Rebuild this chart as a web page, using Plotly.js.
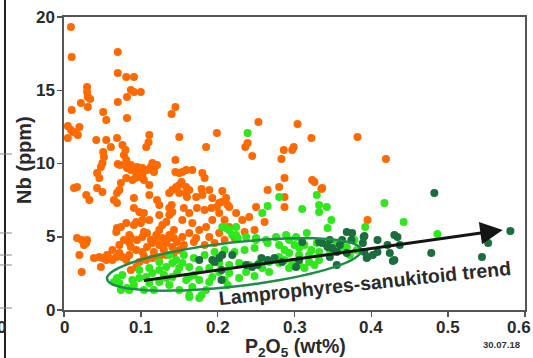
<!DOCTYPE html>
<html><head><meta charset="utf-8">
<script src="https://cdn.plot.ly/plotly-3.0.1.min.js"></script>
<style>html,body{margin:0;padding:0;background:#fff}#chart{width:533px;height:358px}</style>
</head><body><div id="chart"></div>
<script>
// Orange series (P2O5 wt%, Nb ppm)
const orangeX = [0.009,0.010,0.010,0.005,0.009,0.012,0.020,0.018,0.005,0.022,0.030,0.030,0.031,0.034,0.031,0.051,0.055,0.042,0.055,0.061,0.051,0.052,0.050,0.070,0.070,0.081,0.091,0.070,0.082,0.087,0.091,0.100,0.082,0.069,0.076,0.080,0.078,0.081,0.070,0.082,0.087,0.094,0.098,0.102,0.108,0.102,0.111,0.110,0.107,0.115,0.121,0.117,0.145,0.140,0.150,0.145,0.150,0.048,0.043,0.046,0.073,0.082,0.087,0.095,0.100,0.104,0.093,0.089,0.113,0.120,0.117,0.111,0.145,0.081,0.074,0.072,0.069,0.017,0.013,0.029,0.033,0.043,0.050,0.065,0.069,0.091,0.091,0.098,0.104,0.102,0.094,0.091,0.121,0.137,0.140,0.137,0.141,0.081,0.074,0.068,0.069,0.133,0.128,0.124,0.120,0.017,0.023,0.030,0.026,0.029,0.020,0.023,0.039,0.046,0.050,0.055,0.048,0.059,0.063,0.068,0.072,0.076,0.081,0.085,0.087,0.094,0.102,0.108,0.115,0.124,0.133,0.141,0.147,0.098,0.107,0.115,0.124,0.133,0.143,0.087,0.094,0.087,0.085,0.095,0.102,0.108,0.113,0.120,0.128,0.134,0.143,0.104,0.100,0.085,0.199,0.253,0.239,0.236,0.185,0.245,0.286,0.283,0.287,0.265,0.180,0.183,0.167,0.159,0.154,0.153,0.146,0.159,0.163,0.141,0.150,0.160,0.179,0.206,0.193,0.205,0.213,0.156,0.173,0.192,0.199,0.287,0.304,0.322,0.299,0.382,0.323,0.419,0.150,0.159,0.172,0.180,0.189,0.202,0.211,0.215,0.224,0.232,0.241,0.202,0.193,0.185,0.176,0.163,0.154,0.172,0.189,0.202,0.215,0.209,0.250,0.280,0.326,0.336,0.183,0.163,0.154,0.167,0.297,0.335,0.287,0.395,0.137,0.143,0.156,0.169,0.183,0.196,0.209,0.222,0.235,0.150,0.130,0.117,0.104,0.137,0.124,0.111,0.124,0.111,0.248,0.261,0.072,0.078,0.063,0.056];
const orangeY = [19.32,17.27,13.65,12.56,12.29,12.15,12.49,11.95,11.74,14.13,15.22,14.88,14.54,14.40,13.86,13.52,12.97,11.60,11.60,11.13,10.78,10.44,10.03,17.61,16.18,15.90,15.90,14.20,14.54,15.02,14.88,14.88,13.11,11.74,11.26,10.92,10.58,10.24,9.97,9.90,9.56,9.35,9.69,9.69,9.56,9.22,11.95,11.45,11.13,10.03,9.90,9.56,13.86,13.38,11.81,10.24,9.35,9.76,9.35,9.01,9.90,9.69,9.90,9.76,9.08,8.87,9.01,8.87,9.76,9.90,9.42,8.53,9.42,9.01,8.67,8.19,7.99,8.40,8.33,7.85,7.51,8.33,8.05,7.51,7.30,7.65,6.96,6.69,6.62,6.14,6.01,5.80,7.51,7.99,7.17,6.96,6.69,5.94,5.67,5.32,5.60,6.01,5.80,5.46,5.12,4.91,4.78,4.78,4.44,4.57,3.75,2.59,3.55,3.62,3.55,3.41,2.94,3.55,3.41,3.62,3.89,3.62,3.41,3.75,4.30,4.10,3.96,4.30,4.57,4.44,4.57,4.30,4.64,3.28,3.41,3.55,3.62,3.75,3.89,2.73,2.94,4.91,4.57,4.78,4.98,5.26,4.78,4.91,4.91,4.78,4.91,5.32,5.94,5.12,12.08,12.83,11.40,11.13,11.13,10.51,10.92,10.31,9.01,8.19,9.35,9.01,9.56,9.56,9.42,8.74,8.40,8.40,8.19,8.19,7.99,7.71,8.26,8.12,7.65,7.37,7.17,6.96,6.96,6.96,7.03,7.71,12.70,11.74,11.13,11.81,8.87,10.31,8.53,7.99,7.71,7.85,8.19,7.30,7.65,7.03,6.62,6.14,6.35,6.62,6.14,5.67,5.46,5.26,4.98,4.91,4.98,5.26,5.67,6.14,7.03,8.40,8.74,8.33,6.83,6.62,6.14,5.94,10.92,8.26,7.03,6.14,5.12,5.46,4.44,4.64,4.44,4.57,4.78,4.91,5.32,4.10,4.10,3.96,3.69,6.48,6.48,6.14,7.17,7.85,5.46,6.01,4.44,4.78,4.10,3.75];

// Light green series
const lightX = [0.069,0.072,0.082,0.089,0.098,0.107,0.115,0.124,0.133,0.141,0.111,0.124,0.133,0.141,0.147,0.074,0.085,0.146,0.076,0.065,0.211,0.224,0.219,0.226,0.237,0.250,0.263,0.276,0.289,0.302,0.316,0.329,0.342,0.355,0.368,0.381,0.154,0.163,0.176,0.189,0.202,0.215,0.228,0.241,0.254,0.267,0.280,0.293,0.306,0.319,0.332,0.346,0.159,0.167,0.179,0.185,0.176,0.163,0.193,0.202,0.215,0.237,0.258,0.280,0.265,0.258,0.280,0.239,0.329,0.332,0.348,0.343,0.310,0.332,0.342,0.417,0.392,0.442,0.486,0.206,0.215,0.224,0.250,0.265,0.280,0.156,0.169,0.183,0.196,0.209,0.222,0.235,0.248,0.150,0.169,0.189,0.209,0.228,0.248,0.267,0.293,0.306,0.319,0.332,0.287,0.297,0.130,0.137,0.150,0.163,0.137,0.124,0.111,0.098,0.091,0.104,0.117,0.213,0.163,0.176,0.359,0.372,0.378,0.313,0.300,0.293,0.287,0.306,0.322,0.313,0.326];
const lightY = [2.18,1.84,1.50,2.05,2.18,2.25,2.53,2.73,2.94,3.21,1.84,1.91,2.18,2.25,2.53,1.37,1.37,3.41,2.39,1.91,5.60,5.67,5.12,4.91,4.98,4.91,4.78,4.98,5.12,4.98,5.26,4.57,4.44,4.57,4.30,4.10,3.21,2.94,2.73,2.87,3.21,3.07,3.21,3.07,3.21,3.28,3.62,3.89,3.75,3.75,3.96,4.10,2.05,1.57,1.02,1.37,2.05,2.25,2.25,2.59,2.53,2.59,2.87,3.21,7.10,6.62,7.71,12.08,7.85,7.17,6.14,5.60,6.89,6.69,7.03,7.30,5.67,6.01,5.19,5.67,5.46,5.12,4.78,4.57,4.44,3.75,3.55,3.75,3.96,4.10,3.96,4.10,4.23,2.87,2.39,1.91,2.05,2.18,2.32,2.59,2.87,3.07,3.28,3.41,3.41,3.28,2.39,1.71,1.37,1.02,3.75,3.28,2.87,2.73,1.71,1.37,1.37,1.71,0.89,0.82,4.10,3.75,4.78,4.44,4.44,4.78,4.10,4.23,4.10,2.87,3.07];

// Dark green series
const darkX = [0.176,0.193,0.202,0.206,0.205,0.219,0.237,0.252,0.265,0.284,0.310,0.336,0.343,0.355,0.362,0.368,0.375,0.196,0.205,0.257,0.274,0.245,0.368,0.374,0.391,0.408,0.430,0.332,0.346,0.349,0.359,0.346,0.395,0.408,0.424,0.430,0.306,0.302,0.355,0.482,0.581,0.552,0.544,0.478,0.428,0.434,0.437,0.421,0.402,0.394,0.391,0.389,0.390];
const darkY = [3.41,3.41,3.55,3.75,2.05,3.75,3.07,3.07,3.41,3.28,4.64,4.57,4.30,3.96,4.78,3.89,5.26,3.28,2.73,3.55,3.55,2.94,5.32,4.78,5.05,4.78,5.12,4.64,4.78,4.23,4.44,3.62,3.62,3.96,3.89,3.41,3.41,2.94,3.07,7.99,5.39,4.57,3.62,3.89,3.34,4.98,4.44,4.44,3.75,3.55,3.96,4.57,4.98];

// Axis ticks
const xTicks = [0,0.1,0.2,0.3,0.4,0.5,0.6];
const xTickText = ["0","0.1","0.2","0.3","0.4","0.5","0.6"];
const yTicks = [0,5,10,15,20];
const yTickText = ["0","5","10","15","20"];

// Trend arrow (start/end) and ellipse tips
const trendStart = [0.100, 1.98];
const trendEnd = [0.571, 5.46];
const ellLeft = [0.056, 2.12];
const ellRight = [0.387, 4.10];

const FONT = 'Liberation Sans, Arial, Helvetica, sans-serif';
const INK = '#2a2a2a';
const L = 64, R = 8, T = 17, B = 48, W = 533, H = 358;
const pw = W - L - R, ph = H - T - B;
const xr = [0, 0.6], yr = [0, 20];
const sx = pw / (xr[1] - xr[0]), sy = ph / (yr[1] - yr[0]);

// ellipse path (annotation shape) built in pixel space, returned in data units
function ellipsePath(a, b, halfMinorPx) {
  const ax = a[0]*sx, ay = a[1]*sy, bx = b[0]*sx, by = b[1]*sy;
  const cx = (ax+bx)/2, cy = (ay+by)/2;
  const ux = (bx-ax)/2, uy = (by-ay)/2;
  const len = Math.hypot(ux, uy);
  const vx = -uy/len*halfMinorPx, vy = ux/len*halfMinorPx;
  let d = '';
  for (let i = 0; i <= 72; i++) {
    const t = i/72*2*Math.PI;
    const px = cx + ux*Math.cos(t) + vx*Math.sin(t);
    const py = cy + uy*Math.cos(t) + vy*Math.sin(t);
    d += (i === 0 ? 'M' : 'L') + (px/sx).toFixed(5) + ',' + (py/sy).toFixed(4);
  }
  return d + 'Z';
}

const mk = (x, y, color) => ({
  type: 'scatter', mode: 'markers', x: x, y: y, hoverinfo: 'skip',
  marker: {size: 8, color: color, line: {width: 0}}, showlegend: false
});

const data = [
  mk(orangeX, orangeY, '#ff6a00'),
  mk(lightX, lightY, '#2ee81c'),
  mk(darkX, darkY, '#1a6d3c')
];

// paper helpers for positioning decorations
const pxToPaperX = p => (p - L) / pw;
const pyToPaperY = p => (H - B - p) / ph;
const xToPaper = v => (v - xr[0]) / (xr[1] - xr[0]);
const yToPaper = v => (v - yr[0]) / (yr[1] - yr[0]);

const shapes = [
  {type: 'path', xref: 'x', yref: 'y', path: ellipsePath(ellLeft, ellRight, 22),
   line: {color: '#1f8c4a', width: 2.5}, fillcolor: 'rgba(0,0,0,0)', layer: 'above'},
  {type: 'line', xref: 'paper', yref: 'paper', x0: pxToPaperX(5), x1: pxToPaperX(5),
   y0: pyToPaperY(0), y1: pyToPaperY(358), line: {color: '#222', width: 2}}
];
[154, 233, 255, 265, 308].forEach(py => shapes.push({
  type: 'line', xref: 'paper', yref: 'paper', x0: pxToPaperX(0), x1: pxToPaperX(12),
  y0: pyToPaperY(py), y1: pyToPaperY(py), line: {color: '#888', width: 1}
}));

const tickFont = {family: FONT, size: 17, color: INK};
const annotations = [
  {x: trendEnd[0], y: trendEnd[1], ax: trendStart[0], ay: trendStart[1],
   xref: 'x', yref: 'y', axref: 'x', ayref: 'y', text: ' ', showarrow: true,
   arrowhead: 2, arrowsize: 1.5, arrowwidth: 3, arrowcolor: '#151515'},
  {x: 0.392, y: 1.85, xref: 'x', yref: 'y', text: '<b>Lamprophyres-sanukitoid trend</b>',
   showarrow: false, textangle: -6, font: {family: FONT, size: 19.5, color: INK}},
  {x: pxToPaperX(501), y: pyToPaperY(344), xref: 'paper', yref: 'paper',
   xanchor: 'center', yanchor: 'middle',
   text: '<b>30.07.18</b>', showarrow: false, font: {family: FONT, size: 9.5, color: '#333'}},
  {x: pxToPaperX(1), y: pyToPaperY(327), xref: 'paper', yref: 'paper',
   xanchor: 'center', yanchor: 'middle',
   text: '<b>0</b>', showarrow: false, font: {family: FONT, size: 17, color: INK}},
  // axis titles
  {x: pxToPaperX(295), y: pyToPaperY(347.5), xref: 'paper', yref: 'paper',
   xanchor: 'center', yanchor: 'middle', showarrow: false,
   text: '<b>P<sub>2</sub>O<sub>5</sub> (wt%)</b>', font: {family: FONT, size: 19.5, color: INK}},
  {x: pxToPaperX(24), y: pyToPaperY(160), xref: 'paper', yref: 'paper',
   xanchor: 'center', yanchor: 'middle', showarrow: false, textangle: -90,
   text: '<b>Nb (ppm)</b>', font: {family: FONT, size: 20, color: INK}}
];
// tick labels from tick arrays; the last one is right-aligned to the page edge so it stays visible
xTicks.forEach((v, i) => {
  const last = i === xTicks.length - 1;
  annotations.push({
    x: last ? pxToPaperX(W) : xToPaper(v), xref: 'paper', y: 0, yref: 'paper',
    yanchor: 'top', xanchor: last ? 'right' : 'center', yshift: -6,
    showarrow: false, text: '<b>' + xTickText[i] + '</b>', font: tickFont
  });
});
yTicks.forEach((v, i) => annotations.push({
  x: 0, xref: 'paper', y: yToPaper(v), yref: 'paper', xanchor: 'right', yanchor: 'middle', xshift: -7,
  showarrow: false, text: '<b>' + yTickText[i] + '</b>', font: tickFont
}));

const axisCommon = {
  showgrid: false, zeroline: false, showline: true, linecolor: '#555', linewidth: 2,
  mirror: true, ticks: 'outside', ticklen: 5, tickwidth: 1.5, tickcolor: '#555',
  showticklabels: false
};

const layout = {
  width: W, height: H, margin: {l: L, r: R, t: T, b: B, pad: 0},
  paper_bgcolor: '#fff', plot_bgcolor: '#fff',
  xaxis: Object.assign({}, axisCommon, {range: xr, tickvals: xTicks}),
  yaxis: Object.assign({}, axisCommon, {range: yr, tickvals: yTicks}),
  shapes: shapes, annotations: annotations, showlegend: false
};

Plotly.newPlot('chart', data, layout, {staticPlot: true, displayModeBar: false});
</script></body></html>
